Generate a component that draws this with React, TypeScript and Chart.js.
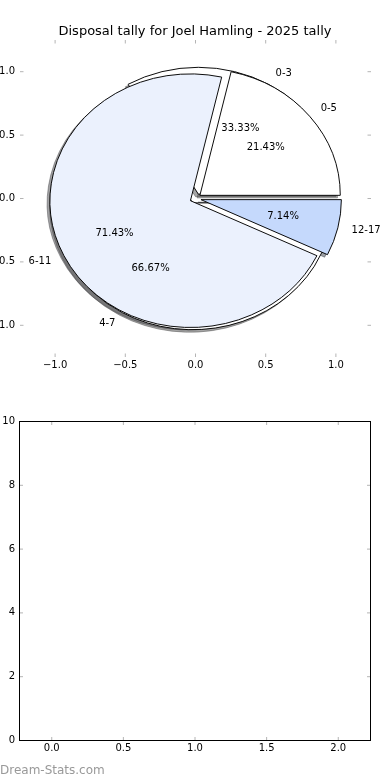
import React, { useEffect, useRef } from 'react';
import { Chart, registerables } from 'chart.js';

Chart.register(...registerables);

const FONT = "'DejaVu Sans', sans-serif";

// ---- data ----
const TITLE = 'Disposal tally for Joel Hamling - 2025 tally';
const outerLabels = ['0-3', '4-7'];
const outerValues = [1, 2];
const outerColors = ['#ffffff', '#ffffff'];
const innerLabels = ['0-5', '6-11', '12-17'];
const innerValues = [3, 10, 1];
const innerColors = ['#ffffff', '#ebf1fd', '#c5d9fc'];
const pieTicks = [-1, -0.5, 0, 0.5, 1];
const bottomXTicks = [0, 0.5, 1, 1.5, 2];
const bottomYTicks = [0, 2, 4, 6, 8, 10];
const WATERMARK = 'Dream-Stats.com';

const EXPLODE = 0.04;
const LABEL_DIST = 1.1;
const PCT_DIST = 0.6;
const SHADOW_OFF = 0.02;

function shadowOf(hex: string) {
  const n = parseInt(hex.slice(1), 16);
  const r = Math.round(((n >> 16) & 255) * 0.3);
  const g = Math.round(((n >> 8) & 255) * 0.3);
  const b = Math.round((n & 255) * 0.3);
  return `rgba(${r},${g},${b},0.5)`;
}

const fmt1 = (v: number) => v.toFixed(1).replace('-', '\u2212');

const mplAxes = {
  id: 'mplAxes',
  afterDraw(chart: any, _args: any, opts: any) {
    const { ctx, chartArea: a, scales } = chart;
    const x = scales.x;
    const y = scales.y;
    const L = 3.5;
    ctx.save();
    ctx.strokeStyle = '#b4b4b4';
    ctx.lineWidth = 1;
    ctx.beginPath();
    x.ticks.forEach((t: any) => {
      const p = x.getPixelForValue(t.value);
      ctx.moveTo(p, a.bottom);
      ctx.lineTo(p, a.bottom - L);
      ctx.moveTo(p, a.top);
      ctx.lineTo(p, a.top + L);
    });
    y.ticks.forEach((t: any) => {
      const p = y.getPixelForValue(t.value);
      ctx.moveTo(a.left, p);
      ctx.lineTo(a.left + L, p);
      ctx.moveTo(a.right, p);
      ctx.lineTo(a.right - L, p);
    });
    ctx.stroke();
    if (opts && opts.frame) {
      ctx.strokeStyle = '#000';
      ctx.lineWidth = 1;
      ctx.strokeRect(a.left, a.top, a.right - a.left, a.bottom - a.top);
    }
    ctx.restore();
  },
};

function tickScale(min: number, max: number, ticks: number[], fmt: (v: number) => string, size: (s: any) => void, padding: number) {
  return {
    type: 'linear',
    min,
    max,
    grid: { display: false, drawTicks: false },
    border: { display: false },
    ticks: { color: '#000', font: { size: 10, family: FONT }, padding, autoSkip: false, maxRotation: 0, callback: (v: any) => fmt(Number(v)) },
    afterBuildTicks: (s: any) => {
      s.ticks = ticks.map((value) => ({ value }));
    },
    afterFit: size,
  };
}

// empty right-hand axis that only reserves the right margin
const rightMargin = (w: number) => ({
  type: 'linear',
  position: 'right',
  display: true,
  grid: { display: false, drawTicks: false },
  border: { display: false },
  ticks: { display: false },
  afterFit: (s: any) => { s.width = w; },
});

export default function App() {
  const topRef = useRef<HTMLCanvasElement>(null);
  const pieRef = useRef<HTMLCanvasElement>(null);
  const botRef = useRef<HTMLCanvasElement>(null);

  useEffect(() => {
    Chart.defaults.font.family = FONT;

    const axes = new Chart(topRef.current as HTMLCanvasElement, {
      type: 'scatter',
      data: { datasets: [{ data: [] }] },
      options: {
        animation: false,
        responsive: false,
        events: [],
        layout: { padding: 0 },
        plugins: {
          legend: { display: false },
          tooltip: { enabled: false },
          title: {
            display: true,
            text: TITLE,
            color: '#000',
            font: { size: 13, weight: 'normal', family: FONT },
            padding: { top: 23.4, bottom: 1.0 },
          },
          mplAxes: { frame: false },
        },
        scales: {
          x: tickScale(-1.25, 1.25, pieTicks, fmt1, (s: any) => { s.height = 33; }, 2),
          y: tickScale(-1.25, 1.25, pieTicks, fmt1, (s: any) => { s.width = 20; }, 5),
          yRight: rightMargin(19),
        },
      } as any,
      plugins: [mplAxes],
    });

    const geom = () => {
      const xs: any = axes.scales.x;
      const ys: any = axes.scales.y;
      const cx = xs.getPixelForValue(0);
      const cy = ys.getPixelForValue(0);
      const R = xs.getPixelForValue(1) - cx;
      const sy = (cy - ys.getPixelForValue(1)) / R;
      return { cx, cy, R, sy };
    };

    const layers = [
      { values: outerValues, labels: outerLabels, shadow: true },
      { values: innerValues, labels: innerLabels, shadow: true },
      { values: outerValues, labels: outerLabels, shadow: false },
      { values: innerValues, labels: innerLabels, shadow: false },
    ];

    const piePlugin = {
      id: 'mplPie',
      afterDatasetsUpdate(chart: any) {
        const g = geom();
        chart.data.datasets.forEach((_ds: any, i: number) => {
          const meta = chart.getDatasetMeta(i);
          meta.data.forEach((arc: any) => {
            const mid = (arc.startAngle + arc.endAngle) / 2;
            arc.x = g.cx + EXPLODE * g.R * Math.cos(mid);
            arc.y = g.cy + EXPLODE * g.R * Math.sin(mid);
            arc.innerRadius = 0;
            arc.outerRadius = g.R;
          });
        });
      },
      beforeDatasetDraw(chart: any, args: any) {
        const g = geom();
        const ctx = chart.ctx;
        ctx.save();
        if (layers[args.index].shadow) ctx.translate(-SHADOW_OFF * g.R, SHADOW_OFF * g.R * g.sy);
        ctx.translate(g.cx, g.cy);
        ctx.scale(1, -g.sy);
        ctx.translate(-g.cx, -g.cy);
      },
      afterDatasetDraw(chart: any) {
        chart.ctx.restore();
      },
      afterDraw(chart: any) {
        const g = geom();
        const ctx = chart.ctx;
        ctx.save();
        ctx.font = `10px ${FONT}`;
        ctx.fillStyle = '#000';
        ctx.textBaseline = 'middle';
        layers.forEach((layer, i) => {
          if (layer.shadow) return;
          const total = layer.values.reduce((s, v) => s + v, 0);
          const meta = chart.getDatasetMeta(i);
          meta.data.forEach((arc: any, j: number) => {
            const mid = (arc.startAngle + arc.endAngle) / 2;
            const c = Math.cos(mid);
            const s = Math.sin(mid);
            const rl = EXPLODE + LABEL_DIST;
            const lx = g.cx + rl * g.R * c;
            const ly = g.cy - rl * g.R * g.sy * s;
            ctx.textAlign = c > 0 ? 'left' : 'right';
            ctx.fillText(layer.labels[j], lx, ly);
            const rp = EXPLODE + PCT_DIST;
            const px = g.cx + rp * g.R * c;
            const py = g.cy - rp * g.R * g.sy * s;
            ctx.textAlign = 'center';
            ctx.fillText(((100 * layer.values[j]) / total).toFixed(2) + '%', px, py);
          });
        });
        ctx.restore();
      },
    };

    const pie = new Chart(pieRef.current as HTMLCanvasElement, {
      type: 'pie',
      data: {
        labels: innerLabels,
        datasets: [
          { data: outerValues, backgroundColor: outerColors.map(shadowOf), borderColor: outerColors.map(shadowOf), borderWidth: 1, order: 3, clip: false },
          { data: innerValues, backgroundColor: innerColors.map(shadowOf), borderColor: innerColors.map(shadowOf), borderWidth: 1, order: 2, clip: false },
          { data: outerValues, backgroundColor: outerColors, borderColor: '#000', borderWidth: 1, order: 1, clip: false },
          { data: innerValues, backgroundColor: innerColors, borderColor: '#000', borderWidth: 1, order: 0, clip: false },
        ],
      },
      options: {
        animation: false,
        responsive: false,
        events: [],
        rotation: 90,
        elements: { arc: { borderJoinStyle: 'miter', borderAlign: 'center', offset: 0, spacing: 0 } },
        plugins: { legend: { display: false }, tooltip: { enabled: false } },
      } as any,
      plugins: [piePlugin],
    });

    const bottom = new Chart(botRef.current as HTMLCanvasElement, {
      type: 'scatter',
      data: { datasets: [{ data: [] }] },
      options: {
        animation: false,
        responsive: false,
        events: [],
        layout: { padding: { top: 41.5, right: 19.5, bottom: 0, left: 0 } },
        plugins: {
          legend: { display: false },
          tooltip: { enabled: false },
          mplAxes: { frame: true },
        },
        scales: {
          x: tickScale(-0.225, 2.225, bottomXTicks, fmt1, (s: any) => { s.height = 39.5; }, 2),
          y: tickScale(0, 10, bottomYTicks, (v: number) => String(v), (s: any) => { s.width = 19.5; }, 4.5),
        },
      } as any,
      plugins: [mplAxes],
    });

    return () => {
      pie.destroy();
      axes.destroy();
      bottom.destroy();
    };
  }, []);

  return (
    <div style={{ position: 'fixed', left: 0, top: 0, width: 390, height: 780, background: '#fff', overflow: 'hidden' }}>
      <canvas ref={topRef} width={390} height={390} style={{ position: 'absolute', left: 0, top: 0 }} />
      <canvas ref={pieRef} width={390} height={390} style={{ position: 'absolute', left: 0, top: 0 }} />
      <canvas ref={botRef} width={390} height={400} style={{ position: 'absolute', left: 0, top: 380 }} />
      <div style={{ position: 'absolute', left: 0, top: 763, fontFamily: FONT, fontSize: 12, lineHeight: '14px', color: '#999', whiteSpace: 'nowrap' }}>
        {WATERMARK}
      </div>
    </div>
  );
}
